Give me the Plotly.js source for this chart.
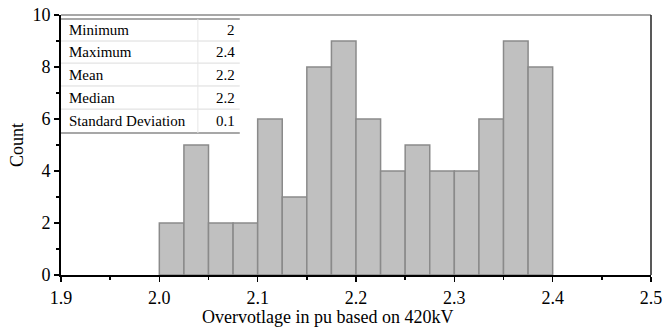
<!DOCTYPE html>
<html>
<head>
<meta charset="utf-8">
<script src="https://cdn.plot.ly/plotly-3.0.1.min.js"></script>
<style>html,body{margin:0;padding:0;background:#fff;}#chart{width:666px;height:328px;}</style>
</head>
<body>
<div id="chart"></div>
<script>
// Bin left edges (pu) and counts
var binStarts = [2.000, 2.025, 2.050, 2.075, 2.100, 2.125, 2.150, 2.175, 2.200, 2.225, 2.250, 2.275, 2.300, 2.325, 2.350, 2.375];
var counts    = [2, 5, 2, 2, 6, 3, 8, 9, 6, 4, 5, 4, 4, 6, 9, 8];
var binWidth = 0.025;

// Statistics table
var statNames  = ["Minimum", "Maximum", "Mean", "Median", "Standard Deviation"];
var statValues = ["2", "2.4", "2.2", "2.2", "0.1"];

var xTickVals = [1.9, 2.0, 2.1, 2.2, 2.3, 2.4, 2.5];
var xTickText = ["1.9", "2.0", "2.1", "2.2", "2.3", "2.4", "2.5"];
var yTickVals = [0, 2, 4, 6, 8, 10];

var FONT = "Liberation Serif";

var trace = {
  type: "bar",
  x: binStarts,
  y: counts,
  width: binStarts.map(function(){return binWidth;}),
  offset: 0,
  marker: {color: "#c0c0c0", line: {color: "#8a8a8a", width: 1.5}},
  hoverinfo: "x+y"
};

// table geometry (paper coords)
var tx0 = 0, tx1 = 0.303, tsep = 0.232;
var rowLines = [0.985, 0.900, 0.815, 0.727, 0.638, 0.546];
var shapes = [];
var annotations = [];
shapes.push({type:"rect", xref:"paper", yref:"paper", x0:tx0, x1:tx1, y0:rowLines[5], y1:rowLines[0], fillcolor:"#ffffff", line:{width:0}, layer:"above"});
for (var i = 0; i < rowLines.length; i++) {
  var edge = (i === 0 || i === rowLines.length - 1);
  shapes.push({type:"line", xref:"paper", yref:"paper", x0:tx0, x1:tx1, y0:rowLines[i], y1:rowLines[i], line:{color: edge ? "#8a8a8a" : "#dcdcdc", width: edge ? 1.5 : 1}, layer:"above"});
}
shapes.push({type:"line", xref:"paper", yref:"paper", x0:tsep, x1:tsep, y0:rowLines[5], y1:rowLines[0], line:{color:"#e6e6e6", width:1}, layer:"above"});
for (var j = 0; j < statNames.length; j++) {
  var yc = (rowLines[j] + rowLines[j+1]) / 2;
  annotations.push({xref:"paper", yref:"paper", x:0.010, y:yc, xanchor:"left", yanchor:"middle", text:statNames[j], showarrow:false, font:{family:FONT, size:15, color:"#000"}});
  annotations.push({xref:"paper", yref:"paper", x:tx1 - 0.004, y:yc, xanchor:"right", yanchor:"middle", text:statValues[j], showarrow:false, font:{family:FONT, size:15, color:"#000"}});
}
// frame top and right
shapes.push({type:"line", xref:"paper", yref:"paper", x0:0, x1:1, y0:1, y1:1, line:{color:"#8a8a8a", width:1.5}});
shapes.push({type:"line", xref:"paper", yref:"paper", x0:1, x1:1, y0:0, y1:1, line:{color:"#222", width:1.5}});

// x axis title
annotations.push({xref:"paper", yref:"paper", x:0.4525, y:0, yshift:-42, xanchor:"center", yanchor:"middle", text:"Overvotlage in pu based on 420kV", showarrow:false, font:{family:FONT, size:18, color:"#000"}});

var layout = {
  width: 666, height: 328,
  margin: {l: 61, r: 15, t: 15, b: 53},
  paper_bgcolor: "#fff", plot_bgcolor: "#fff",
  showlegend: false,
  bargap: 0,
  font: {family: FONT, size: 16, color: "#000"},
  xaxis: {
    range: [1.9, 2.5], tickmode: "array", tickvals: xTickVals, ticktext: xTickText,
    ticks: "outside", ticklen: 5, tickwidth: 1.5, tickcolor: "#000",
    minor: {dtick: 0.05, tick0: 1.9, ticks: "outside", ticklen: 3, tickwidth: 1.5, tickcolor: "#000", showgrid: false},
    showline: true, linecolor: "#000", linewidth: 2, showgrid: false, zeroline: false,
    tickfont: {family: FONT, size: 18, color: "#000"}, fixedrange: true
  },
  yaxis: {
    range: [0, 10], tickmode: "array", tickvals: yTickVals,
    ticks: "outside", ticklen: 5, tickwidth: 1.5, tickcolor: "#000",
    minor: {dtick: 1, tick0: 0, ticks: "outside", ticklen: 3, tickwidth: 1.5, tickcolor: "#000", showgrid: false},
    showline: true, linecolor: "#000", linewidth: 2, showgrid: false, zeroline: false,
    tickfont: {family: FONT, size: 18, color: "#000"},
    title: {text: "Count", font: {family: FONT, size: 18, color: "#000"}, standoff: 4}, fixedrange: true
  },
  shapes: shapes,
  annotations: annotations
};

Plotly.newPlot("chart", [trace], layout, {displayModeBar: false, staticPlot: true});
</script>
</body>
</html>
